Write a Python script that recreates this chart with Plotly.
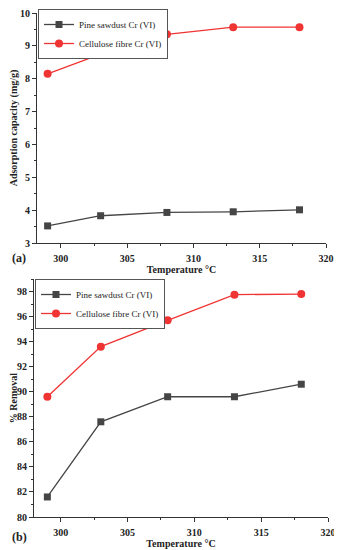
import plotly.graph_objects as go

temps = [299, 303, 308, 313, 318]
pine_ads = [3.52, 3.83, 3.93, 3.95, 4.01]
cell_ads = [8.15, 8.75, 9.35, 9.57, 9.57]
pine_rem = [81.6, 87.6, 89.6, 89.6, 90.6]
cell_rem = [89.6, 93.6, 95.7, 97.75, 97.8]
names = ["Pine sawdust Cr (VI)", "Cellulose fibre Cr (VI)"]

GRAY = "#454545"
RED = "#f03434"
FONT = "Liberation Serif"

# page body has an 8px margin; the figure is sized to fill the rest of the window
OFF = 8
W, H = 342 - OFF, 550 - OFF

def px(x):
    return (x - OFF) / W

def py(y):
    return 1 - (y - OFF) / H

fig = go.Figure()
fig.add_trace(go.Scatter(x=temps, y=pine_ads, name=names[0], mode="lines+markers",
                         line=dict(color=GRAY, width=1.3), marker=dict(symbol="square", size=7, color=GRAY),
                         xaxis="x", yaxis="y", legend="legend"))
fig.add_trace(go.Scatter(x=temps, y=cell_ads, name=names[1], mode="lines+markers",
                         line=dict(color=RED, width=1.3), marker=dict(symbol="circle", size=8, color=RED),
                         xaxis="x", yaxis="y", legend="legend"))
fig.add_trace(go.Scatter(x=temps, y=pine_rem, name=names[0], mode="lines+markers",
                         line=dict(color=GRAY, width=1.3), marker=dict(symbol="square", size=7, color=GRAY),
                         xaxis="x2", yaxis="y2", legend="legend2"))
fig.add_trace(go.Scatter(x=temps, y=cell_rem, name=names[1], mode="lines+markers",
                         line=dict(color=RED, width=1.3), marker=dict(symbol="circle", size=8, color=RED),
                         xaxis="x2", yaxis="y2", legend="legend2"))

tickfont = dict(family=FONT, size=10, color="#222", weight="bold")
titlefont = dict(family=FONT, size=10, color="#222", weight="bold")
axcommon = dict(showgrid=False, zeroline=False, showline=True, linecolor="#333", linewidth=1.2,
                ticks="outside", ticklen=4, tickwidth=1, tickcolor="#333", tickfont=tickfont,
                automargin=False, ticklabeloverflow="allow")
minor_x = dict(ticks="outside", ticklen=2, tickcolor="#333", dtick=2.5, tick0=300)

fig.update_layout(
    width=W, height=H, margin=dict(l=0, r=0, t=0, b=0, autoexpand=False),
    paper_bgcolor="white", plot_bgcolor="white",
    xaxis=dict(domain=[px(37), px(326)], range=[298.2, 320], anchor="y", tickvals=[300, 305, 310, 315, 320],
               minor=minor_x, ticklabelstandoff=2,
               title=dict(text="Temperature °C", font=titlefont, standoff=0),
               **axcommon),
    yaxis=dict(domain=[py(243), py(13)], range=[3, 10.0], anchor="x", dtick=1,
               minor=dict(ticks="outside", ticklen=2, tickcolor="#333", dtick=0.5),
               title=dict(text="Adsorption capacity (mg/g)", font=titlefont, standoff=7),
               **axcommon),
    xaxis2=dict(domain=[px(34), px(328)], range=[298.0, 320], anchor="y2", tickvals=[300, 305, 310, 315, 320],
                minor=minor_x, ticklabelstandoff=2,
                title=dict(text="Temperature °C", font=titlefont, standoff=0),
                **axcommon),
    yaxis2=dict(domain=[py(517), py(279)], range=[80, 99.0], anchor="x2", dtick=2,
                minor=dict(ticks="outside", ticklen=2, tickcolor="#333", dtick=1),
                title=dict(text="% Removal", font=titlefont, standoff=12),
                **axcommon),
    legend=dict(x=px(38), y=py(9), xanchor="left", yanchor="top", bgcolor="white",
                bordercolor="#555", borderwidth=1, font=dict(family=FONT, size=9, color="#222"),
                itemwidth=30, tracegroupgap=0),
    legend2=dict(x=px(35), y=py(279), xanchor="left", yanchor="top", bgcolor="white",
                 bordercolor="#555", borderwidth=1, font=dict(family=FONT, size=9, color="#222"),
                 itemwidth=30, tracegroupgap=0),
    showlegend=True,
    annotations=[
        dict(text="(a)", x=px(10), y=py(258), xref="paper", yref="paper", showarrow=False,
             xanchor="left", yanchor="middle", font=dict(family=FONT, size=12, color="#222", weight="bold")),
        dict(text="(b)", x=px(10), y=py(537), xref="paper", yref="paper", showarrow=False,
             xanchor="left", yanchor="middle", font=dict(family=FONT, size=12, color="#222", weight="bold")),
    ],
)

fig.write_html("out.html")
